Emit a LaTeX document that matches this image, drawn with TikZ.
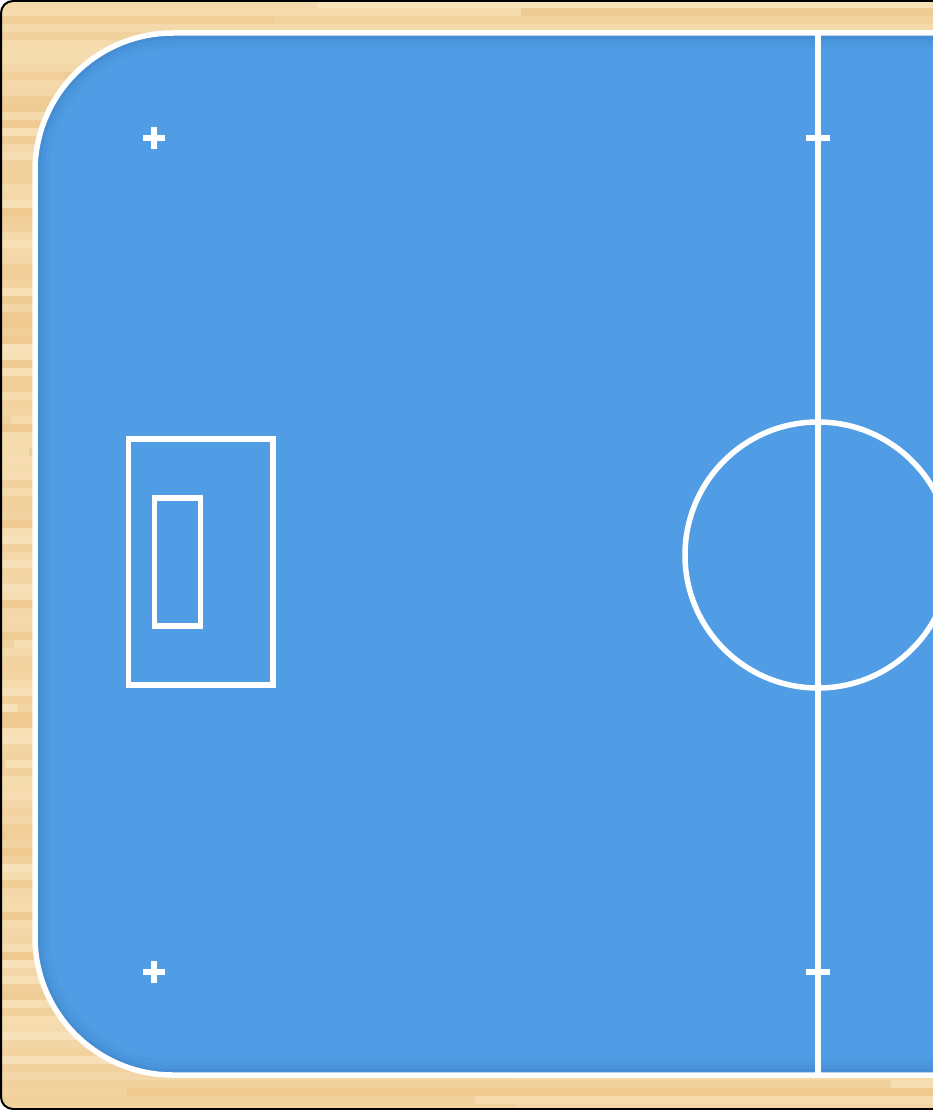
\documentclass[tikz,border=0pt]{standalone}
\definecolor{courtblue}{RGB}{80,157,229}
\definecolor{courtdark}{RGB}{30,80,140}
\definecolor{woodlight}{RGB}{248,226,186}
\definecolor{wooddark}{RGB}{234,192,128}
\begin{document}
\begin{tikzpicture}[x=1pt,y=-1pt,
  courtline/.style={draw=white,line width=5.5pt},
  courtshape/.style={rounded corners=138pt}]
\useasboundingbox (0,0) rectangle (933,1110);
% wood floor
\begin{scope}
\clip[rounded corners=12pt] (1,1) rectangle (990,1109);
\pgfmathsetseed{11}
\foreach \i in {0,...,139}{
  \pgfmathtruncatemacro\s{30+70*rnd}
  \pgfmathtruncatemacro\t{30+70*rnd}
  \pgfmathsetmacro\xa{rnd*900}
  \fill[woodlight!\s!wooddark] (0,\i*8) rectangle (\xa,\i*8+8);
  \fill[woodlight!\t!wooddark] (\xa,\i*8) rectangle (990,\i*8+8);
}
\end{scope}
\draw[black,line width=2pt,rounded corners=12pt] (1,1) rectangle (990,1109);
% court surface
\fill[courtblue,courtshape] (35,33) rectangle (1100,1075);
\begin{scope}
\clip[courtshape] (35,33) rectangle (1100,1075);
\foreach \w/\o in {30/0.05,20/0.06,12/0.08,6/0.1}
  \draw[courtdark,opacity=\o,line width=\w pt,courtshape] (35,33) rectangle (1100,1075);
\end{scope}
\draw[courtline,courtshape] (35,33) rectangle (1100,1075);
% halfway line and marks
\draw[courtline] (818,33) -- (818,1075);
\draw[courtline] (806,138) -- (830,138);
\draw[courtline] (806,972) -- (830,972);
\draw[courtline] (818,555) circle (133pt);
% corner marks
\draw[courtline] (143,138) -- (165,138) (154,127) -- (154,149);
\draw[courtline] (143,972) -- (165,972) (154,961) -- (154,983);
% penalty area and goal
\draw[courtline] (128.5,439) rectangle (273,685);
\draw[courtline] (154.5,498) rectangle (200.7,626);
\end{tikzpicture}
\end{document}
